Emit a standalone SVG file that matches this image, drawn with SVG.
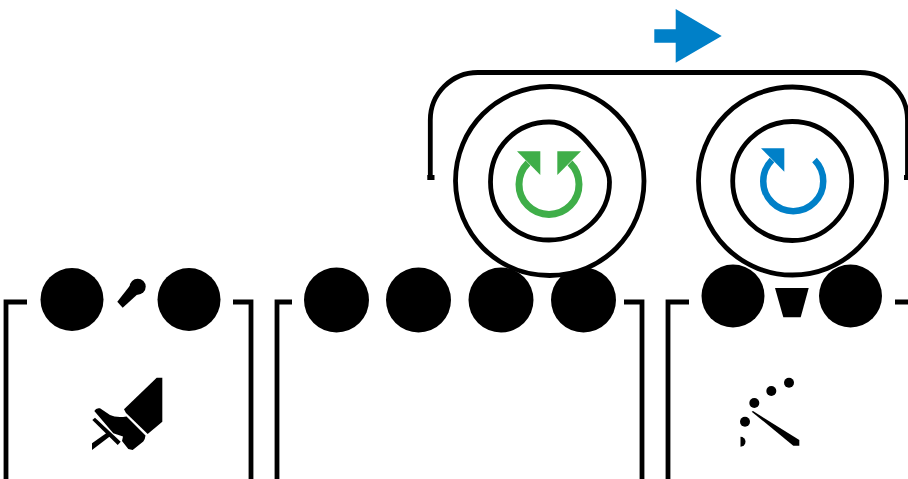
<svg xmlns="http://www.w3.org/2000/svg" width="908" height="479" viewBox="0 0 908 479">
<style>
.l{fill:none;stroke:#000;stroke-width:4.800}
.k{fill:#000}
.g{fill:#3fae49}
.b{fill:#0080c8}
</style>
<rect width="908" height="479" fill="#fff"/>
<g id="connectors">
<path class="l" d="M430.300,177.500V120A47.500,47.500 0 0 1 477.800,72.500H860A47.500,47.500 0 0 1 907.500,120V177"/>
<path class="l" d="M427.300,177.500H434.500M904,177.500H908"/>
</g>
<g id="panel-left">
<path class="l" d="M27,302H6V479M233,302H251V479"/>
<circle class="k" cx="72" cy="299.500" r="31.500"/>
<circle class="k" cx="189" cy="299.500" r="31.500"/>
<circle class="k" cx="137.700" cy="286.700" r="8"/>
<path class="k" d="M117.300,301.700L122.700,307.700L140,292L132,283Z"/>
<path class="k" d="M124,409.300L156.700,377.700H162.300V421.700L147.700,434L126,413Z"/>
<path class="k" d="M94.300,411Q96,407.500 100,408.300L110,415Q116,418 126.500,416.500L145.500,435.500Q145,440 143.300,441.500L132.700,450L128.300,449L122,441L123,436.500L117,434.500L113.300,433.300Z"/>
<path class="k" d="M92.300,420L95,417.700L120.700,441.700L117.700,445Z"/>
<path class="k" d="M108.300,431.700L92,443.300V450L111.700,435Z"/>
</g>
<g id="panel-middle">
<path class="l" d="M292,302H277V479M624,302H642V479"/>
<circle class="k" cx="336.500" cy="300" r="32.500"/>
<circle class="k" cx="418.500" cy="300" r="32.500"/>
<circle class="k" cx="501" cy="300" r="32.500"/>
<circle class="k" cx="583.500" cy="300" r="32.500"/>
</g>
<g id="panel-right">
<path class="l" d="M689,302H668V479M895,302H908"/>
<circle class="k" cx="733" cy="296" r="31.500"/>
<circle class="k" cx="850.500" cy="296" r="31.500"/>
<path class="k" d="M775,288H808.700L800.700,317.300H783.300Z"/>
<circle class="k" cx="789" cy="382.700" r="5"/>
<circle class="k" cx="771.300" cy="391" r="5"/>
<circle class="k" cx="754.300" cy="403" r="5"/>
<circle class="k" cx="745" cy="421.700" r="5"/>
<path class="k" d="M740.500,436.700A5,5 0 0 1 740.500,446.700Z"/>
<path class="k" d="M751.700,411.700L753,411L799.300,440V445.700L793.300,445.700Z"/>
</g>
<g id="wheel-left">
<path d="M549.700,86.500C602,86.500 644,128.500 644,181C644,233.500 602,275.500 549.700,275.500C497,275.500 456,233.500 455.500,181C455.500,128.500 497,86.500 549.700,86.500Z" fill="#fff" stroke="#000" stroke-width="4.800"/>
<path class="l" d="M549,122C566,122 578,131 588,143C597,154 609.500,166 609.500,182C609.500,215 582,240 549,240C516,240 490.500,215 490.500,182C490.500,148 516,122 549,122Z"/>
<path d="M528,163A30,30 0 1 0 570,163" fill="none" stroke="#3fae49" stroke-width="7"/>
<path class="g" d="M517,151.300H540.300V175Z"/>
<path class="g" d="M581,151.300H557.300V175Z"/>
</g>
<g id="wheel-right">
<circle cx="792.500" cy="181" r="94" fill="#fff" stroke="#000" stroke-width="4.800"/>
<circle cx="792.200" cy="181" r="59.500" fill="none" stroke="#000" stroke-width="4.800"/>
<path d="M772,160A30,30 0 1 0 814.500,160" fill="none" stroke="#0080c8" stroke-width="6.500"/>
<path class="b" d="M761,148.300H784.300V171.700Z"/>
</g>
<g id="direction-arrow">
<path class="b" d="M654.300,29.300H675.700V9L721.700,36L675.700,62.700V42.700H654.300Z"/>
</g>
</svg>
